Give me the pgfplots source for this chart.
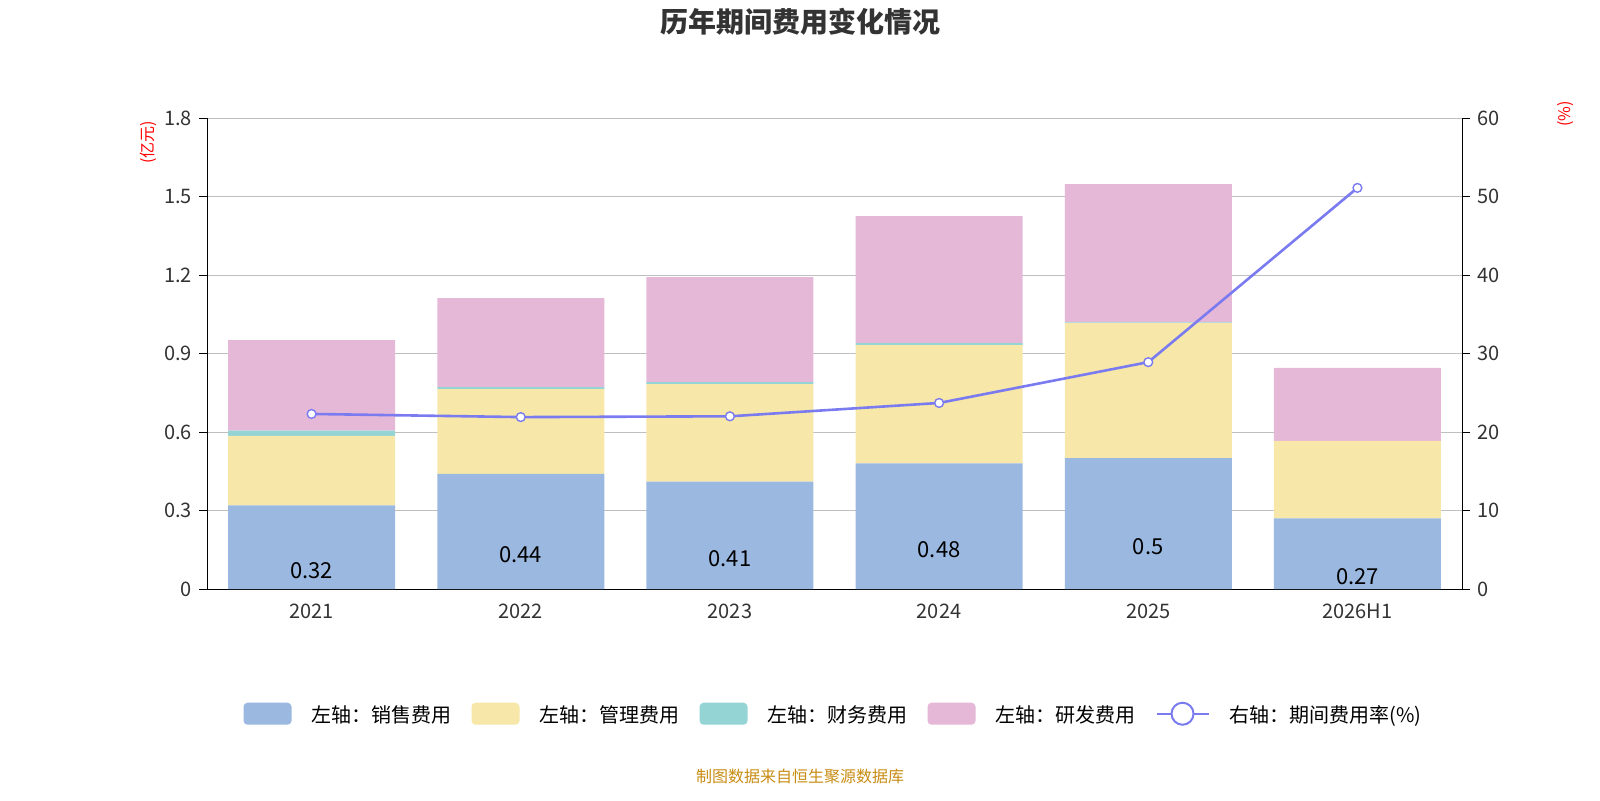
\documentclass[border=0pt]{standalone}
\usepackage{pgfplots}
\pgfplotsset{compat=1.18}
\usepackage{fontspec}
\setmainfont{Noto Sans CJK SC}
\definecolor{cs}{HTML}{9BB8E0}
\definecolor{cm}{HTML}{F7E7A9}
\definecolor{cf}{HTML}{94D4D4}
\definecolor{cr}{HTML}{E6B8D8}
\definecolor{cl}{HTML}{7B7BF0}
\pgfplotsset{/pgf/number format/assume math mode=true}
\begin{document}
\begin{tikzpicture}
\path[use as bounding box] (0pt,0pt) rectangle (800pt,400pt);
\node[font=\bfseries\fontsize{14}{16}\selectfont,text=black!80] at (400pt,389pt) {历年期间费用变化情况};
\node[font=\fontsize{8}{9}\selectfont,text={rgb,255:red,200;green,140;blue,20}] at (400pt,12pt) {制图数据来自恒生聚源数据库};
\node[rotate=90,text=red,font=\fontsize{8}{9}\selectfont] at (74pt,329pt) {(亿元)};
\node[rotate=90,text=red,font=\fontsize{8}{9}\selectfont] at (783pt,343pt) {(\%)};
\begin{axis}[at={(103.5pt,105.5pt)},anchor=south west,scale only axis,width=627.5pt,height=235.5pt,
 ymin=0,ymax=1.8,ytick={0,0.3,0.6,0.9,1.2,1.5,1.8},
 yticklabels={0,0.3,0.6,0.9,1.2,1.5,1.8},
 xmin=-0.5,xmax=5.5,xtick={0,1,2,3,4,5},xticklabels={2021,2022,2023,2024,2025,2026H1},
 major x tick style={draw=none},
 extra x ticks={-0.5,0.5,1.5,2.5,3.5,4.5,5.5},extra x tick labels={},
 extra x tick style={major tick length=4pt,tick style={draw=black},grid=none},
 tick align=outside,
 ymajorgrids,grid style={gray!50},
 axis y line*=left,axis x line*=bottom,
 ytick style={draw=black},major tick length=4pt,
 tick label style={font=\fontsize{10}{12}\selectfont,text=black!80},
 ybar stacked,bar width=83.5pt,
 legend style={at={(0.5,-0.23)},anchor=north,legend columns=5,draw=none,
   font=\fontsize{10}{12}\selectfont,column sep=8pt},
 legend image code/.code={\fill[#1,rounded corners=2pt] (0pt,-4.5pt) rectangle (24pt,6.5pt);},
 ]
\addplot[fill=cs,draw=none,nodes near coords,point meta=explicit symbolic,
 every node near coord/.append style={font=\fontsize{11}{12}\selectfont,yshift=-4pt,anchor=north}] coordinates {
 (0,0.32)[0.32] (1,0.44)[0.44] (2,0.41)[0.41] (3,0.48)[0.48] (4,0.5)[0.5] (5,0.27)[0.27]};
\addlegendentry{左轴：销售费用}
\addplot[fill=cm,draw=none] coordinates {(0,0.265) (1,0.324) (2,0.373) (3,0.452) (4,0.516) (5,0.296)};
\addlegendentry{左轴：管理费用}
\addplot[fill=cf,draw=none] coordinates {(0,0.02) (1,0.008) (2,0.008) (3,0.008) (4,0.003) (5,0.0)};
\addlegendentry{左轴：财务费用}
\addplot[fill=cr,draw=none] coordinates {(0,0.346) (1,0.34) (2,0.401) (3,0.485) (4,0.528) (5,0.279)};
\addlegendentry{左轴：研发费用}
\addlegendimage{legend image code/.code={\draw[cl,line width=1pt] (0pt,1pt) -- (26pt,1pt); \draw[cl,fill=white,line width=1pt] (13pt,1pt) circle (5.5pt);}}
\addlegendentry{右轴：期间费用率(\%)}
\end{axis}
\begin{axis}[at={(103.5pt,105.5pt)},anchor=south west,scale only axis,width=627.5pt,height=235.5pt,
 ymin=0,ymax=60,ytick={0,10,20,30,40,50,60},xmin=-0.5,xmax=5.5,
 axis y line*=right,axis x line=none,tick align=outside,major tick length=4pt,
 ytick style={draw=black},
 tick label style={font=\fontsize{10}{12}\selectfont,text=black!80}]
\addplot[cl,line width=1.3pt,mark=*,mark size=2.2pt,mark options={fill=white,line width=0.7pt}] coordinates {
 (0,22.3) (1,21.9) (2,22.0) (3,23.7) (4,28.9) (5,51.1)};
\end{axis}
\end{tikzpicture}
\end{document}
